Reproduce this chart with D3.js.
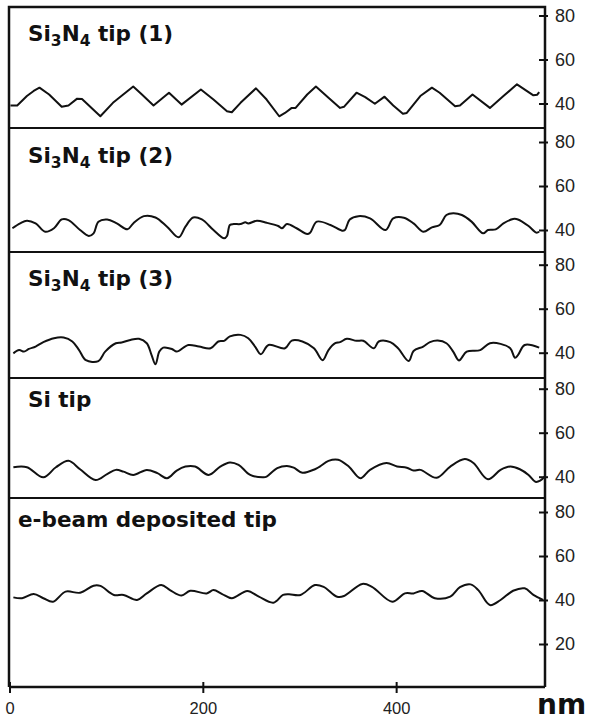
<!DOCTYPE html>
<html>
<head>
<meta charset="utf-8">
<script src="https://cdn.jsdelivr.net/npm/d3@7"></script>
<style>
  body { margin: 0; background: #fff; }
  svg { display: block; }
</style>
</head>
<body>
<svg id="chart" width="590" height="720"></svg>
<script>
// profile data, x in nm, height in nm
const tip1 = [[1,39.1],[8,39.1],[18,43.4],[25,45.7],[31,47.2],[41,44.1],[54,38.5],[61,39.1],[70,42.2],[75,42],[94,34.2],[107,40.3],[128,47.7],[137,44.1],[149,39.1],[165,44.9],[178,39.5],[198,46.4],[211,41.8],[225,36.5],[230,36],[239,40.3],[255,46.9],[266,41.8],[279,34.2],[285,35.7],[292,38],[296,38],[308,44.1],[317,47.7],[330,42.6],[342,38],[346,38.5],[359,44.9],[368,42.9],[378,39.9],[388,43.1],[397,39.1],[407,35.3],[411,35.7],[425,43.4],[437,47.2],[445,44.9],[461,38.8],[466,39.1],[479,44.1],[497,38],[511,43.4],[525,48.7],[542,43.7],[546,44],[548,45.2]];

const tip2 = [[3,40.8],[11,43],[18,44.2],[27,43],[37,39.2],[46,40.8],[54,44.8],[61,44.5],[73,40],[82,37.3],[87,38.5],[92,43.8],[101,44.8],[111,43],[122,40.3],[128,43],[139,46.3],[151,45.7],[163,41.5],[175,36.7],[182,41.5],[190,45.7],[199,44.8],[211,40],[222,36.2],[225,37.3],[228,42.3],[232,42.7],[239,42.7],[244,43.5],[247,43],[256,44.2],[266,43.3],[278,41.8],[282,40.8],[287,42.7],[297,40.8],[308,38.2],[311,38.8],[318,43.8],[332,42.3],[344,39.7],[347,40],[352,44.8],[361,46.3],[373,45.3],[389,40],[397,45.3],[408,45.6],[418,43],[428,39.2],[437,41.2],[445,42.3],[452,46.8],[459,47.6],[468,46.8],[478,43.8],[490,38.5],[495,40],[503,40.3],[511,43],[521,45],[526,44.8],[537,41.8],[545,38.8],[548,39.2]];

const tip3 = [[4,39.7],[10,41.2],[15,40.5],[20,41.7],[27,42.8],[35,44.8],[46,46.6],[56,46.9],[65,45.1],[72,41.2],[79,36.6],[92,36.2],[99,40.5],[110,44.3],[116,44.6],[125,45.8],[134,46.3],[142,44.3],[147,38.9],[151,34.7],[155,40.5],[159,42.3],[168,41.7],[173,40.5],[185,43.5],[196,42.8],[208,42],[216,45.1],[222,45.4],[228,47.4],[239,48.1],[247,46.6],[254,42.8],[260,39.3],[268,43.5],[285,42],[292,45.5],[303,45.1],[315,42],[324,36.6],[330,41.2],[337,44.3],[342,44.8],[349,46.3],[359,45.4],[366,45.4],[377,42],[382,45.1],[394,44.8],[402,42],[413,36.2],[418,40.8],[428,42.8],[435,44.8],[443,45.5],[452,44.3],[459,40.5],[465,36.5],[473,40.5],[487,41.2],[497,44.3],[508,44],[518,42],[523,37.7],[526,38.9],[533,43.5],[548,42.3]];

const tipSi = [[4,44.3],[18,44.3],[35,39.7],[48,44.3],[61,47.2],[73,43.4],[89,38.5],[101,41.2],[110,43.1],[118,42.3],[128,40.8],[142,43.1],[153,41.6],[163,39.3],[173,42.8],[182,44.6],[192,44.6],[206,40.8],[218,44.6],[228,46.5],[237,45.4],[249,40.8],[263,39.7],[266,40],[277,43.9],[287,44.9],[294,44.1],[303,41.8],[316,43.4],[321,44.6],[330,47.2],[340,47.7],[351,44.6],[363,39.3],[373,43.1],[390,46.2],[401,44.6],[411,44.1],[418,42.8],[425,43.1],[442,39.5],[456,44.6],[471,48],[480,46.2],[495,38.8],[508,43.1],[518,44.6],[528,43.4],[537,40.8],[544,37.7],[549,38.2],[554,40.3]];

const tipEbeam = [[4,41.2],[13,40.8],[25,42.7],[35,40.8],[45,39.2],[58,43.8],[73,43.3],[87,46.5],[94,46.4],[108,42.3],[118,42.3],[132,40],[142,43],[157,46.8],[166,44.5],[178,42],[187,44.2],[204,43],[211,44.5],[220,42.7],[230,40.8],[246,44.1],[258,41.5],[273,38.8],[283,42.3],[289,42.6],[301,42.3],[316,46.8],[325,46],[339,41.5],[346,41.8],[365,47.3],[375,46],[396,39.2],[409,43],[418,43],[427,44.1],[440,40.8],[456,41.5],[466,45.8],[477,47.1],[485,44.5],[497,37.7],[508,40],[521,44.2],[533,45.3],[542,42.3],[552,40]];

const series = [tip1, tip2, tip3, tipSi, tipEbeam];

// labels: [text, isSubscript]
const labels = [
  [["Si", false], ["3", true], ["N", false], ["4", true], [" tip (1)", false]],
  [["Si", false], ["3", true], ["N", false], ["4", true], [" tip (2)", false]],
  [["Si", false], ["3", true], ["N", false], ["4", true], [" tip (3)", false]],
  [["Si tip", false]],
  [["e-beam deposited tip", false]]
];

const yTicksUpper = [40, 60, 80];
const yTicksLast = [20, 40, 60, 80];
const xTicks = [0, 200, 400];

// layout
const plotLeft = 9, plotRight = 545, plotTop = 7, plotBottom = 687;
const panelTops = [7, 128, 252, 378, 498];
const panelBase = [191.5, 318, 440.7, 564.7, 688]; // pixel of height 0
const labelPos = [[28, 34], [28, 35], [28, 34], [28, 29], [18, 29]];
const pxPerNm = 2.2;

const svg = d3.select("#chart");

const x = d3.scaleLinear().domain([0, 554]).range([plotLeft + 0.5, plotRight]);

series.forEach((data, i) => {
  const y = d3.scaleLinear()
    .domain([0, 80])
    .range([panelBase[i], panelBase[i] - 80 * pxPerNm]);

  const line = d3.line()
    .x(d => x(d[0]))
    .y(d => y(d[1]))
    .curve(i === 0 ? d3.curveLinear : d3.curveCatmullRom.alpha(0.5));

  svg.append("path")
    .datum(data)
    .attr("d", line)
    .attr("fill", "none")
    .attr("stroke", "#111")
    .attr("stroke-width", 2)
    .attr("stroke-linejoin", "round");

  // right axis ticks for this panel
  const ax = svg.append("g")
    .attr("transform", `translate(${plotRight},0)`)
    .call(d3.axisRight(y)
      .tickValues(i === 4 ? yTicksLast : yTicksUpper)
      .tickSize(3)
      .tickPadding(7)
      .tickFormat(d3.format("d")));
  ax.select(".domain").remove();
  ax.selectAll(".tick line")
    .attr("x1", -6)
    .attr("stroke", "#111")
    .attr("stroke-width", 2);
  ax.selectAll(".tick text")
    .attr("fill", "#222")
    .style("font-family", "'Liberation Sans', Arial, sans-serif")
    .style("font-size", "18px");

  // label
  const t = svg.append("text")
    .attr("x", labelPos[i][0])
    .attr("y", panelTops[i] + labelPos[i][1])
    .attr("fill", "#111")
    .style("font-family", "'DejaVu Sans', Verdana, sans-serif")
    .style("font-weight", "bold")
    .style("font-size", "21.5px");
  labels[i].forEach(([s, sub], k) => {
    const sp = t.append("tspan").text(s);
    if (sub) sp.attr("dy", 5).style("font-size", "15.5px");
    else if (k > 0) sp.attr("dy", -5);
  });
});

// separators between panels
svg.selectAll("line.sep")
  .data(panelTops.slice(1))
  .enter()
  .append("line")
  .attr("class", "sep")
  .attr("x1", plotLeft)
  .attr("x2", plotRight)
  .attr("y1", d => d)
  .attr("y2", d => d)
  .attr("stroke", "#111")
  .attr("stroke-width", 2);

// frame: top, left, right
svg.append("path")
  .attr("d", `M${plotLeft},${plotBottom}V${plotTop}H${plotRight}V${plotBottom}`)
  .attr("fill", "none")
  .attr("stroke", "#111")
  .attr("stroke-width", 2.5);

// bottom axis
const xa = svg.append("g")
  .attr("transform", `translate(0,${plotBottom})`)
  .call(d3.axisBottom(x).tickValues(xTicks).tickSize(6).tickSizeOuter(0).tickPadding(9));
xa.select(".domain")
  .attr("d", `M${plotLeft},0H${plotRight}`)
  .attr("stroke", "#111")
  .attr("stroke-width", 2.5);
xa.selectAll(".tick line")
  .attr("y1", -5)
  .attr("stroke", "#111")
  .attr("stroke-width", 2);
xa.selectAll(".tick text")
  .attr("fill", "#222")
  .style("font-family", "'Liberation Sans', Arial, sans-serif")
  .style("font-size", "16.5px");

svg.append("text")
  .attr("x", 537)
  .attr("y", 714)
  .attr("fill", "#111")
  .style("font-family", "'DejaVu Sans', Verdana, sans-serif")
  .style("font-weight", "bold")
  .style("font-size", "28px")
  .text("nm");
</script>
</body>
</html>
